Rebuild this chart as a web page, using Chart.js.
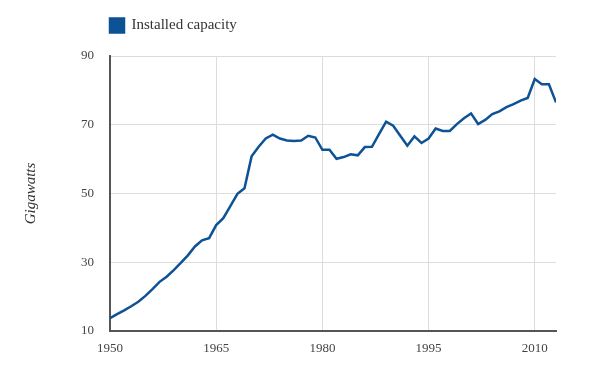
<!DOCTYPE html>
<html>
<head>
<meta charset="utf-8">
<script src="https://cdn.jsdelivr.net/npm/chart.js@4"></script>
<style>
  html, body { margin: 0; padding: 0; background: #fff; }
  #wrap { width: 600px; height: 384px; }
</style>
</head>
<body>
<div id="wrap"><canvas id="capacityChart"></canvas></div>
<script>
// dane (GW)
const years = [
  1950, 1951, 1952, 1953, 1954, 1955, 1956, 1957, 1958, 1959,
  1960, 1961, 1962, 1963, 1964, 1965, 1966, 1967, 1968, 1969,
  1970, 1971, 1972, 1973, 1974, 1975, 1976, 1977, 1978, 1979,
  1980, 1981, 1982, 1983, 1984, 1985, 1986, 1987, 1988, 1989,
  1990, 1991, 1992, 1993, 1994, 1995, 1996, 1997, 1998, 1999,
  2000, 2001, 2002, 2003, 2004, 2005, 2006, 2007, 2008, 2009,
  2010, 2011, 2012, 2013
];
const capacity = [
  13.7, 14.9, 16.0, 17.2, 18.5, 20.2, 22.2, 24.3, 25.8, 27.7,
  29.8, 32.0, 34.6, 36.4, 37.0, 40.8, 42.8, 46.3, 49.9, 51.5,
  60.8, 63.6, 66.0, 67.1, 66.0, 65.4, 65.3, 65.4, 66.8, 66.3,
  62.7, 62.7, 60.1, 60.6, 61.4, 61.1, 63.5, 63.6, 67.3, 70.9,
  69.7, 66.8, 63.9, 66.6, 64.7, 66.0, 68.9, 68.2, 68.2, 70.2,
  71.9, 73.3, 70.2, 71.4, 73.1, 73.9, 75.1, 76.0, 77.0, 77.8,
  83.3, 81.8, 81.8, 76.5
];
const xTicks = [1950, 1965, 1980, 1995, 2010];
const yTicks = [10, 30, 50, 70, 90];

const lineColor = '#0d5295';
const serif = "'Liberation Serif', 'DejaVu Serif', serif";

// legenda: wyrównanie do obszaru wykresu + dodatkowy odstęp pod nią
const legendTweaks = {
  id: 'legendTweaks',
  beforeUpdate(chart) {
    const legend = chart.legend;
    if (legend && !legend._patched) {
      const origFit = legend.fit;
      legend.fit = function () {
        origFit.call(this);
        this.height += 13;
      };
      legend._patched = true;
    }
  },
  afterLayout(chart) {
    if (chart.legend) chart.legend.left = chart.chartArea.left - 10;
  }
};

const ctx = document.getElementById('capacityChart').getContext('2d');
new Chart(ctx, {
  type: 'line',
  data: {
    datasets: [{
      label: 'Installed capacity',
      data: years.map((y, i) => ({ x: y, y: capacity[i] })),
      borderColor: lineColor,
      backgroundColor: lineColor,
      borderWidth: 2.5,
      pointRadius: 0,
      tension: 0,
      fill: false
    }]
  },
  options: {
    responsive: true,
    maintainAspectRatio: false,
    animation: false,
    layout: { padding: { left: 0, right: 44, top: 8, bottom: 23 } },
    plugins: {
      legend: {
        display: true,
        position: 'top',
        align: 'start',
        labels: {
          boxWidth: 14,
          boxHeight: 14,
          color: '#333',
          font: { family: serif, size: 15 }
        }
      },
      tooltip: { enabled: false }
    },
    scales: {
      x: {
        type: 'linear',
        min: 1950,
        max: 2013,
        afterBuildTicks: (scale) => { scale.ticks = xTicks.map(v => ({ value: v })); },
        afterFit: (scale) => { scale.height = 30; },
        grid: { color: '#dcdcdc', lineWidth: 1, drawTicks: false },
        border: { color: '#555', width: 2 },
        ticks: {
          color: '#444',
          padding: 10,
          font: { family: serif, size: 13 },
          callback: (v) => String(v)
        }
      },
      y: {
        min: 10,
        max: 90,
        afterBuildTicks: (scale) => { scale.ticks = yTicks.map(v => ({ value: v })); },
        afterFit: (scale) => { scale.width = 110; },
        grid: { color: '#dcdcdc', lineWidth: 1, drawTicks: false },
        border: { color: '#555', width: 2 },
        title: {
          display: true,
          text: 'Gigawatts',
          color: '#333',
          padding: { top: 22, bottom: 0 },
          font: { family: serif, size: 15, style: 'italic' }
        },
        ticks: {
          color: '#444',
          padding: 16,
          font: { family: serif, size: 13 }
        }
      }
    }
  },
  plugins: [legendTweaks]
});
</script>
</body>
</html>
